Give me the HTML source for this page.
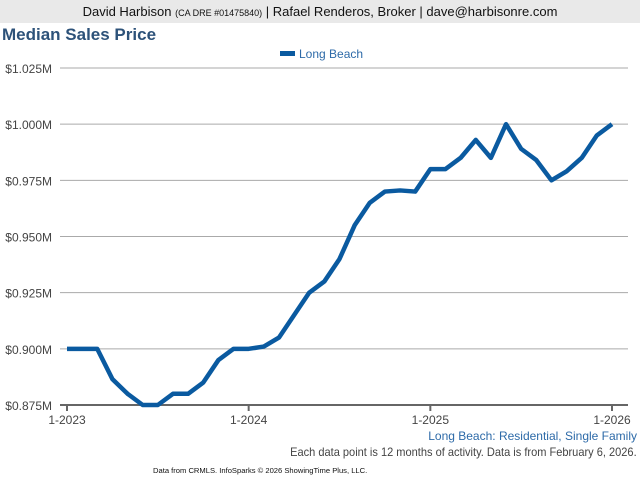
<!DOCTYPE html>
<html><head><meta charset="utf-8"><style>
body{margin:0;width:640px;height:480px;background:#fff;font-family:"Liberation Sans",sans-serif;overflow:hidden;position:relative}
.hdr{position:absolute;left:0;top:0;width:640px;height:23px;background:#e9e9e9;text-align:center;font-size:13px;line-height:23px;color:#111}
.hdr small{font-size:9px}
.title{position:absolute;left:2px;top:25px;font-size:17px;font-weight:bold;color:#2d5279}
.t{position:absolute;white-space:nowrap}
</style></head><body>
<div class="hdr">David Harbison <small>(CA DRE #01475840)</small> | Rafael Renderos, Broker | dave@harbisonre.com</div>
<div class="title">Median Sales Price</div>
<svg id="c" width="640" height="480" style="position:absolute;left:0;top:0"></svg>
<div class="t" style="right:3px;top:429px;font-size:12px;color:#2d6aa8">Long Beach: Residential, Single Family</div>
<div class="t" style="right:3px;top:445px;font-size:12px;color:#444;transform:scaleX(0.92);transform-origin:right">Each data point is 12 months of activity. Data is from February 6, 2026.</div>
<div class="t" style="left:153px;top:466px;font-size:7.6px;color:#111">Data from CRMLS. InfoSparks © 2026 ShowingTime Plus, LLC.</div>
<script>
const yTicks=[0.875,0.900,0.925,0.950,0.975,1.000,1.025];
const yTickLabels=["$0.875M","$0.900M","$0.925M","$0.950M","$0.975M","$1.000M","$1.025M"];
const xTickIdx=[0,12,24,36];
const xTickLabels=["1-2023","1-2024","1-2025","1-2026"];
const seriesName="Long Beach";
const values=[0.900,0.900,0.900,0.8865,0.880,0.875,0.875,0.880,0.880,0.885,0.895,0.900,0.900,0.901,0.905,0.915,0.925,0.930,0.940,0.955,0.965,0.970,0.9705,0.970,0.980,0.980,0.985,0.993,0.985,1.000,0.989,0.984,0.975,0.979,0.985,0.995,1.000];
const svg=document.getElementById('c');const NS='http://www.w3.org/2000/svg';
function x(i){return 67+(612-67)*i/36;}
function y(v){return 405-(v-0.875)/(0.150)*337;}
function mk(t,a){const e=document.createElementNS(NS,t);for(const k in a)e.setAttribute(k,a[k]);svg.appendChild(e);return e;}
yTicks.forEach((v,i)=>{
 const l=mk('line',{x1:60,x2:628,y1:y(v),y2:y(v),stroke:i==0?'#666':'#aaa','stroke-width':i==0?2:1});
 
 
 const t=mk('text',{x:52,y:y(v)+5,'text-anchor':'end','font-size':12,fill:'#444','font-family':'Liberation Sans'});
 t.textContent=yTickLabels[i];
 
 
});
xTickIdx.forEach((ix,i)=>{
 const l=mk('line',{x1:x(ix),x2:x(ix),y1:405,y2:411,stroke:'#666','stroke-width':2});
 
 
 const t=mk('text',{x:x(ix),y:424,'text-anchor':'middle','font-size':12,fill:'#444','font-family':'Liberation Sans'});
 t.textContent=xTickLabels[i];
 
 
});
const p=mk('polyline',{points:values.map((v,i)=>x(i)+','+y(v)).join(' '),fill:'none',stroke:'#0a5aa0','stroke-width':4.5,'stroke-linejoin':'round'});


const lr=mk('rect',{x:280,y:51,width:15,height:5,fill:'#0a5aa0'});


const lt=mk('text',{x:299,y:58,'font-size':12,fill:'#2d6aa8','font-family':'Liberation Sans'});
lt.textContent=seriesName;


</script>
</body></html>
